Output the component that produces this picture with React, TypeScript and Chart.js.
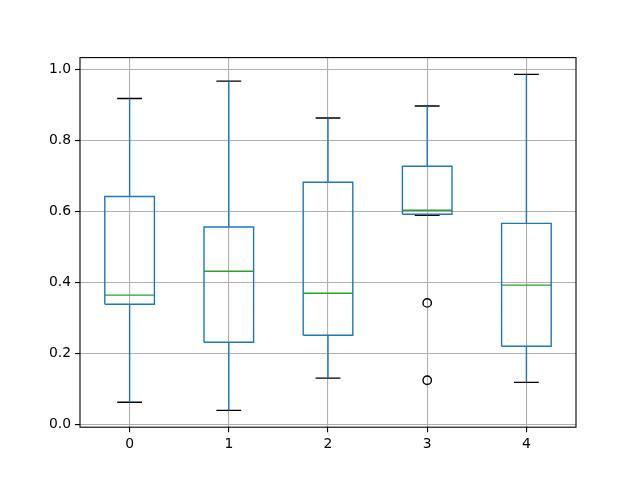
import React, { useEffect, useRef } from "react";
import { Chart, registerables } from "chart.js";

Chart.register(...registerables);

// ---- data ----
const categories = ["0", "1", "2", "3", "4"];
const q1 = [0.338, 0.231, 0.251, 0.592, 0.22];
const q3 = [0.642, 0.556, 0.682, 0.727, 0.566];
const medians = [0.364, 0.431, 0.369, 0.603, 0.392];
const whiskerLow = [0.062, 0.039, 0.13, 0.589, 0.118];
const whiskerHigh = [0.918, 0.967, 0.863, 0.897, 0.986];
const flierX = [3, 3];
const flierY = [0.342, 0.124];
const yTicks = [0, 0.2, 0.4, 0.6, 0.8, 1.0];

const BOX_HALF = 0.25;
const CAP_HALF = 0.125;
const BLUE = "#1f77b4";
const GREEN = "#2ca02c";
const LW = 1.4;

type P = { x: number; y: number | null };

function buildBoxes(): P[] {
  const pts: P[] = [];
  categories.forEach((_, i) => {
    pts.push(
      { x: i - BOX_HALF, y: q1[i] },
      { x: i + BOX_HALF, y: q1[i] },
      { x: i + BOX_HALF, y: q3[i] },
      { x: i - BOX_HALF, y: q3[i] },
      { x: i - BOX_HALF, y: q1[i] },
      { x: i, y: null }
    );
  });
  return pts;
}
function buildWhiskers(): P[] {
  const pts: P[] = [];
  categories.forEach((_, i) => {
    pts.push({ x: i, y: q1[i] }, { x: i, y: whiskerLow[i] }, { x: i, y: null });
    pts.push({ x: i, y: q3[i] }, { x: i, y: whiskerHigh[i] }, { x: i, y: null });
  });
  return pts;
}
function buildCaps(): P[] {
  const pts: P[] = [];
  categories.forEach((_, i) => {
    pts.push({ x: i - CAP_HALF, y: whiskerLow[i] }, { x: i + CAP_HALF, y: whiskerLow[i] }, { x: i, y: null });
    pts.push({ x: i - CAP_HALF, y: whiskerHigh[i] }, { x: i + CAP_HALF, y: whiskerHigh[i] }, { x: i, y: null });
  });
  return pts;
}
function buildMedians(): P[] {
  const pts: P[] = [];
  categories.forEach((_, i) => {
    pts.push({ x: i - BOX_HALF, y: medians[i] }, { x: i + BOX_HALF, y: medians[i] }, { x: i, y: null });
  });
  return pts;
}

const framePlugin = {
  id: "frame",
  afterDraw(chart: any) {
    const { ctx, chartArea } = chart;
    ctx.save();
    ctx.strokeStyle = "#000";
    ctx.lineWidth = 1.1;
    ctx.strokeRect(chartArea.left, chartArea.top, chartArea.right - chartArea.left, chartArea.bottom - chartArea.top);
    ctx.restore();
  },
};

export default function App() {
  const ref = useRef<HTMLCanvasElement | null>(null);
  useEffect(() => {
    document.body.style.margin = "0";
    if (!ref.current) return;
    const allVals = [...whiskerLow, ...whiskerHigh, ...flierY];
    const dMin = Math.min(...allVals);
    const dMax = Math.max(...allVals);
    const m = (dMax - dMin) * 0.05;
    const lineDs = (label: string, data: P[], color: string) => ({
      label,
      data,
      showLine: true,
      borderColor: color,
      backgroundColor: "transparent",
      borderWidth: LW,
      pointRadius: 0,
      pointHoverRadius: 0,
      spanGaps: false,
      tension: 0,
      borderJoinStyle: "miter" as const,
      borderCapStyle: "butt" as const,
    });
    const font = { family: "'DejaVu Sans', sans-serif", size: 13.9 };
    const chart = new Chart(ref.current, {
      type: "scatter",
      data: {
        datasets: [
          lineDs("boxes", buildBoxes(), BLUE),
          lineDs("whiskers", buildWhiskers(), BLUE),
          lineDs("caps", buildCaps(), "#000"),
          lineDs("medians", buildMedians(), GREEN),
          {
            label: "fliers",
            data: flierX.map((x, i) => ({ x, y: flierY[i] })),
            showLine: false,
            pointStyle: "circle",
            pointRadius: 4.2,
            pointBorderWidth: 1.4,
            pointBorderColor: "#000",
            pointBackgroundColor: "transparent",
            borderColor: "#000",
            backgroundColor: "transparent",
          } as any,
        ],
      },
      options: {
        animation: false,
        responsive: false,
        devicePixelRatio: 1,
        events: [],
        layout: { padding: { left: 0, top: 57.6, right: 64, bottom: 0 } },
        plugins: { legend: { display: false }, tooltip: { enabled: false } },
        scales: {
          x: {
            type: "linear",
            min: -0.5,
            max: 4.5,
            afterBuildTicks: (s: any) => {
              s.ticks = categories.map((_, i) => ({ value: i }));
            },
            afterFit: (s: any) => {
              s.height = 480 - 427.2;
            },
            ticks: {
              color: "#000",
              font,
              padding: 4,
              maxRotation: 0,
              callback: (v: any) => categories[Math.round(Number(v))] ?? "",
            },
            grid: {
              color: "#b0b0b0",
              lineWidth: 1.1,
              tickColor: "#000",
              tickLength: 5,
              tickWidth: 1.1,
            } as any,
            border: { display: false },
          },
          y: {
            type: "linear",
            min: dMin - m,
            max: dMax + m,
            afterBuildTicks: (s: any) => {
              s.ticks = yTicks.map((v) => ({ value: v }));
            },
            afterFit: (s: any) => {
              s.width = 80;
            },
            ticks: {
              color: "#000",
              font,
              padding: 4,
              callback: (v: any) => Number(v).toFixed(1),
            },
            grid: {
              color: "#b0b0b0",
              lineWidth: 1.1,
              tickColor: "#000",
              tickLength: 5,
              tickWidth: 1.1,
            } as any,
            border: { display: false },
          },
        },
      },
      plugins: [framePlugin],
    });
    return () => chart.destroy();
  }, []);
  return <canvas ref={ref} width={640} height={480} style={{ display: "block" }} />;
}
